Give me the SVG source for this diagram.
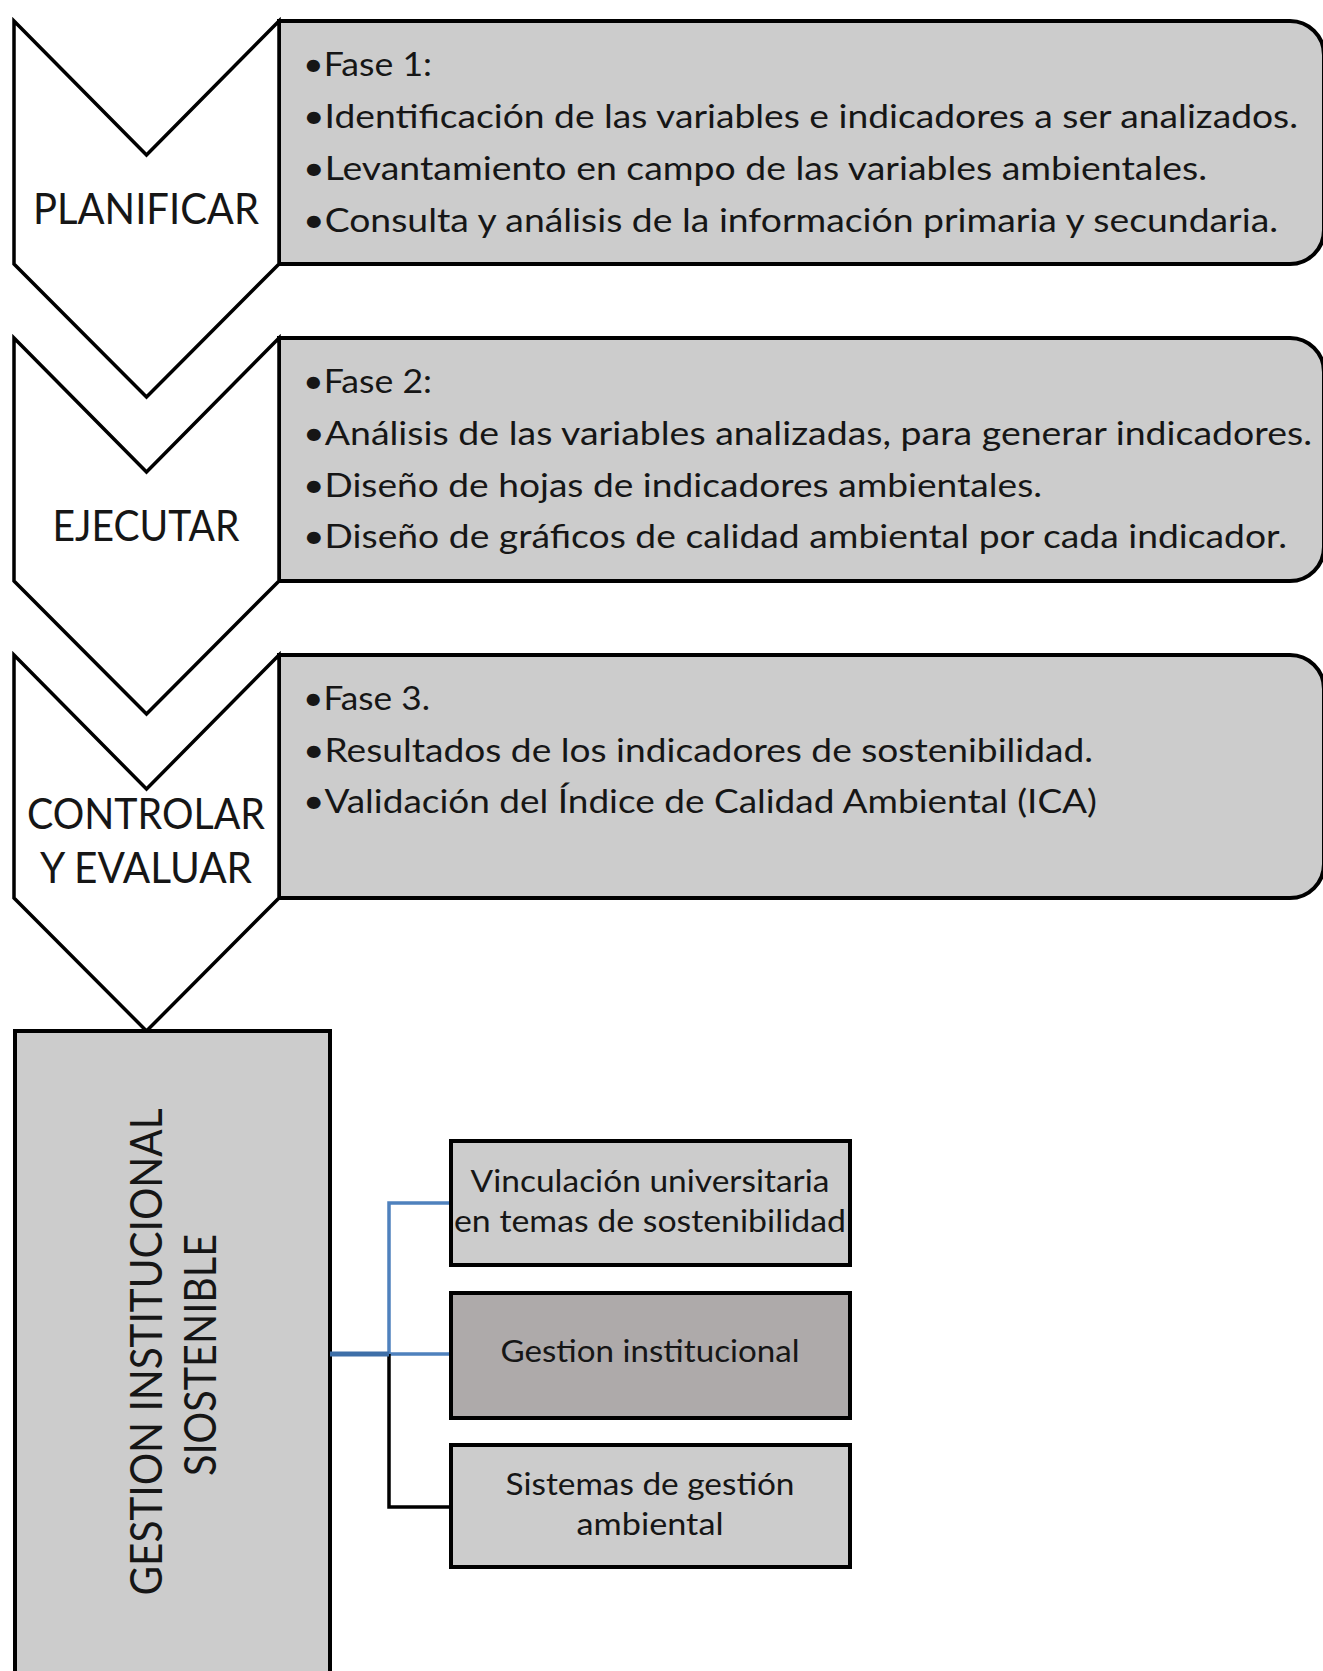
<svg xmlns="http://www.w3.org/2000/svg" width="1323" height="1671" viewBox="0 0 1323 1671">
  <style>
    text { font-family: Lato, "Noto Sans", "Liberation Sans", sans-serif; fill: #161616; }
    .chev { fill: #ffffff; stroke: #000000; stroke-width: 3.5; stroke-linejoin: miter; }
    .panel { fill: #cccccc; stroke: #000000; stroke-width: 4; }
    .item { font-size: 32px; }
    .label { font-size: 42px; text-anchor: middle; }
    .vert { font-size: 44px; text-anchor: middle; }
    .sbox { fill: #cccccc; stroke: #000000; stroke-width: 4; }
    .sbox-dark { fill: #aeaaaa; stroke: #000000; stroke-width: 4; }
    .stext { font-size: 30px; text-anchor: middle; }
    .blue { stroke: #4f81bd; stroke-width: 3.5; fill: none; }
    .blue-thick { stroke: #3e6fa8; stroke-width: 5; fill: none; }
    .black { stroke: #000000; stroke-width: 3.5; fill: none; }
  </style>

  <g id="phase1">
    <path class="panel" d="M279,21 H1290 A34,34 0 0 1 1324,55 V230 A34,34 0 0 1 1290,264 H279 Z"/>
    <polygon class="chev" points="14,21 146.5,155 279,21 279,264 146.5,397 14,264"/>
    <text class="label" x="146" y="224" textLength="226" lengthAdjust="spacingAndGlyphs">PLANIFICAR</text>
    <text class="item" x="303" y="76" textLength="129" lengthAdjust="spacingAndGlyphs">•Fase 1:</text>
    <text class="item" x="303" y="128" textLength="995" lengthAdjust="spacingAndGlyphs">•Identificación de las variables e indicadores a ser analizados.</text>
    <text class="item" x="303" y="180" textLength="904" lengthAdjust="spacingAndGlyphs">•Levantamiento en campo de las variables ambientales.</text>
    <text class="item" x="303" y="232" textLength="975" lengthAdjust="spacingAndGlyphs">•Consulta y análisis de la información primaria y secundaria.</text>
  </g>

  <g id="phase2">
    <path class="panel" d="M279,338 H1290 A34,34 0 0 1 1324,372 V547 A34,34 0 0 1 1290,581 H279 Z"/>
    <polygon class="chev" points="14,338 146.5,472 279,338 279,581 146.5,714 14,581"/>
    <text class="label" x="146" y="541" textLength="187" lengthAdjust="spacingAndGlyphs">EJECUTAR</text>
    <text class="item" x="303" y="393" textLength="129" lengthAdjust="spacingAndGlyphs">•Fase 2:</text>
    <text class="item" x="303" y="445" textLength="1009" lengthAdjust="spacingAndGlyphs">•Análisis de las variables analizadas, para generar indicadores.</text>
    <text class="item" x="303" y="497" textLength="739" lengthAdjust="spacingAndGlyphs">•Diseño de hojas de indicadores ambientales.</text>
    <text class="item" x="303" y="548" textLength="984" lengthAdjust="spacingAndGlyphs">•Diseño de gráficos de calidad ambiental por cada indicador.</text>
  </g>

  <g id="phase3">
    <path class="panel" d="M279,655 H1290 A34,34 0 0 1 1324,689 V864 A34,34 0 0 1 1290,898 H279 Z"/>
    <polygon class="chev" points="14,655 146.5,789 279,655 279,898 146.5,1031 14,898"/>
    <text class="label" x="146" y="829" textLength="238" lengthAdjust="spacingAndGlyphs">CONTROLAR</text>
    <text class="label" x="146" y="883" textLength="212" lengthAdjust="spacingAndGlyphs">Y EVALUAR</text>
    <text class="item" x="303" y="710" textLength="127" lengthAdjust="spacingAndGlyphs">•Fase 3.</text>
    <text class="item" x="303" y="762" textLength="790" lengthAdjust="spacingAndGlyphs">•Resultados de los indicadores de sostenibilidad.</text>
    <text class="item" x="303" y="813" textLength="794" lengthAdjust="spacingAndGlyphs">•Validación del Índice de Calidad Ambiental (ICA)</text>
  </g>

  <g id="gestion-sostenible">
    <rect class="panel" x="15" y="1031" width="315" height="660"/>
    <text class="vert" transform="translate(162,1352) rotate(-90)" textLength="487" lengthAdjust="spacingAndGlyphs">GESTION INSTITUCIONAL</text>
    <text class="vert" transform="translate(216,1355) rotate(-90)" textLength="242" lengthAdjust="spacingAndGlyphs">SIOSTENIBLE</text>
  </g>

  <g id="connectors">
    <polyline class="blue" points="451,1203 389,1203 389,1354 451,1354"/>
    <polyline class="black" points="389,1354 389,1507 451,1507"/>
    <line class="blue-thick" x1="330" y1="1354" x2="389" y2="1354"/>
  </g>

  <g id="vinculacion">
    <rect class="sbox" x="451" y="1141" width="399" height="124"/>
    <text class="stext" x="650" y="1192" textLength="359" lengthAdjust="spacingAndGlyphs">Vinculación universitaria</text>
    <text class="stext" x="650" y="1232" textLength="392" lengthAdjust="spacingAndGlyphs">en temas de sostenibilidad</text>
  </g>

  <g id="gestion-institucional">
    <rect class="sbox-dark" x="451" y="1293" width="399" height="125"/>
    <text class="stext" x="650" y="1362" textLength="299" lengthAdjust="spacingAndGlyphs">Gestion institucional</text>
  </g>

  <g id="sistemas-gestion">
    <rect class="sbox" x="451" y="1445" width="399" height="122"/>
    <text class="stext" x="650" y="1495" textLength="289" lengthAdjust="spacingAndGlyphs">Sistemas de gestión</text>
    <text class="stext" x="650" y="1535" textLength="147" lengthAdjust="spacingAndGlyphs">ambiental</text>
  </g>
</svg>
